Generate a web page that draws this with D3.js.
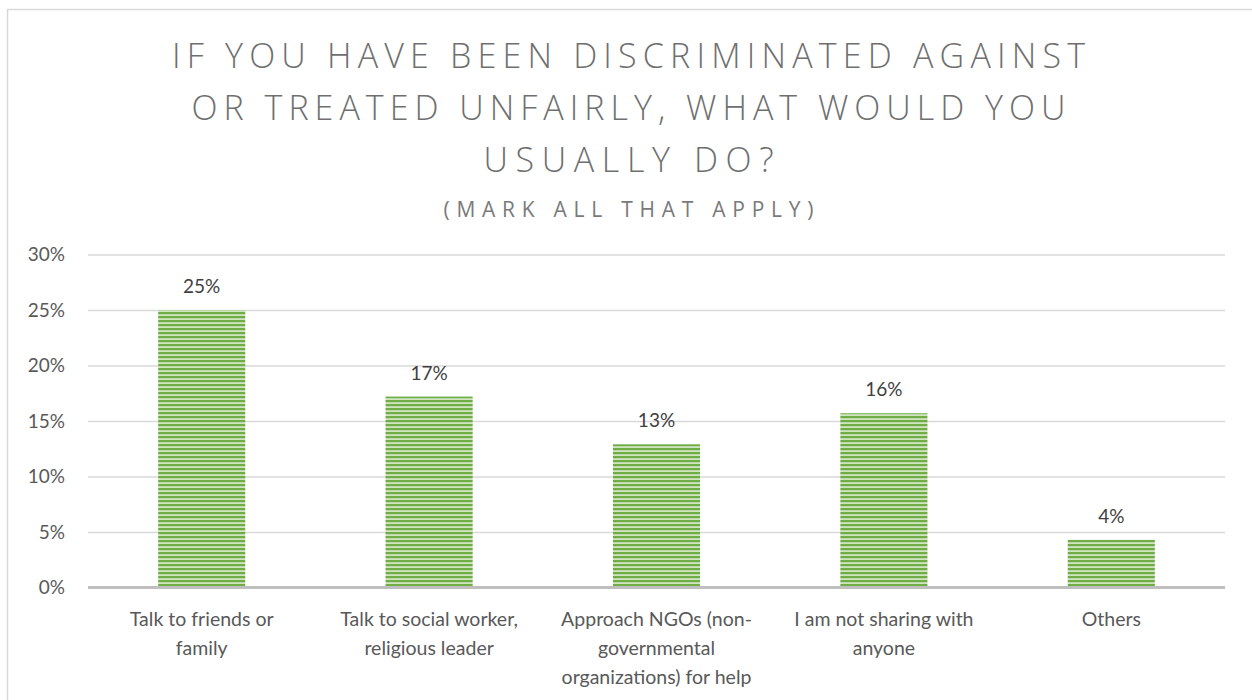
<!DOCTYPE html>
<html>
<head>
<meta charset="utf-8">
<script src="https://cdn.jsdelivr.net/npm/d3@7"></script>
<style>
  html, body { margin: 0; padding: 0; background: #ffffff; }
  svg { display: block; }
</style>
</head>
<body>
<div id="chart"></div>
<script>
// Survey responses: share of respondents choosing each action
const categories = [
  "Talk to friends or\nfamily",
  "Talk to social worker,\nreligious leader",
  "Approach NGOs (non-\ngovernmental\norganizations) for help",
  "I am not sharing with\nanyone",
  "Others"
];
const shares = [0.250, 0.172, 0.129, 0.157, 0.043];
const yTicks = [0, 0.05, 0.10, 0.15, 0.20, 0.25, 0.30];
const titleLines = [
  "IF YOU HAVE BEEN DISCRIMINATED AGAINST",
  "OR TREATED UNFAIRLY, WHAT WOULD YOU",
  "USUALLY DO?"
];
const subtitle = "(MARK ALL THAT APPLY)";

const W = 1252, H = 700;
const FONT = "Lato, 'Open Sans', sans-serif";
const TITLE_FONT = "'Open Sans', Lato, sans-serif";
const plot = { left: 88, right: 1225, top: 254.5, bottom: 587.5 };

const svg = d3.select("#chart").append("svg")
  .attr("width", W).attr("height", H);

// striped fill for the bars
const defs = svg.append("defs");
const pat = defs.append("pattern")
  .attr("id", "stripes")
  .attr("patternUnits", "userSpaceOnUse")
  .attr("width", 8).attr("height", 4);
pat.append("rect").attr("width", 8).attr("height", 4).attr("fill", "#cfe5bf");
pat.append("rect").attr("y", 0).attr("width", 8).attr("height", 2.2).attr("fill", "#70ad47");

// chart area frame
svg.append("rect")
  .attr("x", 7.5).attr("y", 9.5)
  .attr("width", 1260).attr("height", 720)
  .attr("fill", "#ffffff")
  .attr("stroke", "#d9d9d9").attr("stroke-width", 1.5);

// title
const title = svg.append("g")
  .attr("font-family", TITLE_FONT)
  .attr("fill", "#6f6f6f")
  .attr("text-anchor", "middle");
const titleWidths = [913, 874, 290];
title.selectAll("text.t").data(titleLines).join("text")
  .attr("class", "t")
  .attr("x", 628.5)
  .attr("y", (d, i) => 68 + i * 52)
  .attr("font-size", 34)
  .attr("font-weight", 300)
  .attr("textLength", (d, i) => titleWidths[i])
  .attr("lengthAdjust", "spacing")
  .text(d => d);
title.append("text")
  .attr("x", 628.5).attr("y", 217)
  .attr("font-size", 21)
  .attr("font-weight", 400)
  .attr("fill", "#7a7a7a")
  .attr("textLength", 370)
  .attr("lengthAdjust", "spacing")
  .text(subtitle);

// scales
const x = d3.scaleBand()
  .domain(categories)
  .range([plot.left, plot.right])
  .paddingInner(0.617)
  .paddingOuter(0.3085);
const y = d3.scaleLinear()
  .domain([0, 0.30])
  .range([plot.bottom, plot.top]);

const pct = d3.format(".0%");

// gridlines + y labels
const yAxis = d3.axisLeft(y)
  .tickValues(yTicks)
  .tickFormat(pct)
  .tickSize(-(plot.right - plot.left))
  .tickPadding(23);
const gy = svg.append("g")
  .attr("transform", `translate(${plot.left},0)`)
  .call(yAxis);
gy.select(".domain").remove();
gy.selectAll(".tick line").attr("stroke", "#d9d9d9").attr("stroke-width", 1.3);
gy.selectAll(".tick text")
  .attr("font-family", FONT).attr("font-size", 19)
  .attr("fill", "#595959");

// bars
svg.append("g").selectAll("rect").data(shares).join("rect")
  .attr("x", (d, i) => x(categories[i]))
  .attr("width", x.bandwidth())
  .attr("y", d => y(d))
  .attr("height", d => y(0) - y(d))
  .attr("fill", "url(#stripes)");

// value labels
svg.append("g").selectAll("text").data(shares).join("text")
  .attr("x", (d, i) => x(categories[i]) + x.bandwidth() / 2)
  .attr("y", d => y(d) - 17)
  .attr("text-anchor", "middle")
  .attr("font-family", FONT).attr("font-size", 19)
  .attr("fill", "#404040")
  .text(d => pct(d));

// x axis line and category labels
const xAxis = d3.axisBottom(x).tickSize(0).tickFormat("");
const gx = svg.append("g")
  .attr("transform", `translate(0,${plot.bottom})`)
  .call(xAxis);
gx.select(".domain").attr("stroke", "#bfbfbf").attr("stroke-width", 3)
  .attr("d", `M${plot.left},0H${plot.right}`);
gx.selectAll(".tick").each(function(d) {
  const t = d3.select(this).append("text")
    .attr("text-anchor", "middle")
    .attr("font-family", FONT).attr("font-size", 19.5)
    .attr("fill", "#595959");
  d.split("\n").forEach((line, k) => {
    t.append("tspan").attr("x", 0).attr("y", 38 + k * 29).text(line);
  });
});
</script>
</body>
</html>
